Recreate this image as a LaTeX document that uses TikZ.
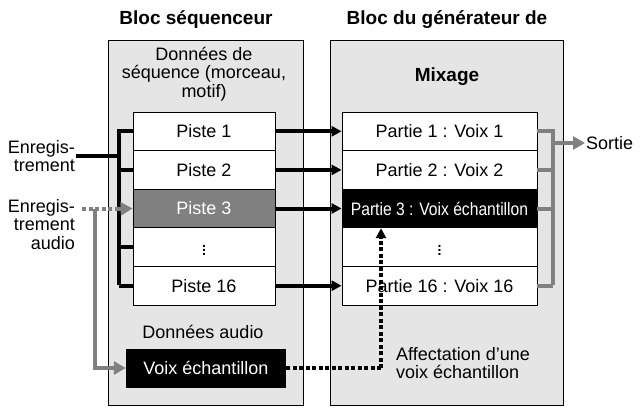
\documentclass[tikz,border=0pt]{standalone}
\usepackage{fontspec}
\setmainfont{Liberation Sans}
\usetikzlibrary{arrows.meta}
\definecolor{panel}{gray}{0.9}
\definecolor{midgray}{gray}{0.5}
\begin{document}
\begin{tikzpicture}[x=1pt, y=-1pt,
    >={Triangle[length=10pt, width=10pt]},
    font=\fontsize{18}{18.5}\selectfont,
    ]
% -------------------------------------------------
% Box and line styles
\tikzset{
  panel/.style={draw, fill=panel, line width=0.8pt},
  row/.style={draw, fill=white, line width=0.8pt, minimum height=38.6pt, inner sep=0pt},
  track/.style={row, minimum width=142pt},
  part/.style={row, minimum width=195pt},
  plain/.style={},
  grayrow/.style={fill=midgray, text=white},
  blackrow/.style={fill=black, text=white},
  head/.style={font=\fontsize{19}{21}\selectfont\bfseries},
  blk/.style={line width=4pt, black},
  gry/.style={line width=4pt, midgray},
  dots/.style={line width=3.5pt, dash pattern=on 4pt off 2.5pt},
  gtip/.style={-{Triangle[length=12pt,width=13pt]}},
}
\newcommand\vdotsmark{\raisebox{-2pt}{\fontsize{14}{14}\selectfont\bfseries\vdots}}
\useasboundingbox (0,0) rectangle (640,409);
% -------------------------------------------------
% Panels and headings
\draw [panel] (108,40) rectangle (303,405);
\draw [panel] (330,40) rectangle (563,405);
\node [head] (hseq) at (196,20) {Bloc séquenceur};
\node [head] (hgen) at (447,20) {Bloc du générateur de};
\node [head] (hmix) at (447,77) {Mixage};
\node [align=center] (seqdata) at (204,74) {Données de\\séquence (morceau,\\motif)};
% -------------------------------------------------
% Track rows and part rows
\foreach \i/\t/\s in {1/Piste 1/plain, 2/Piste 2/plain, 3/Piste 3/grayrow, 4/\vdotsmark/plain, 5/Piste 16/plain}
  \node [track, \s] (t\i) at (204,{112+38.6*(\i-0.5)}) {\t};
\foreach \i/\t/\s in {1/Partie 1 : Voix 1/plain, 2/Partie 2 : Voix 2/plain,
    3/\scalebox{0.87}[1]{Partie 3 : Voix échantillon}/blackrow, 4/\vdotsmark/plain, 5/Partie 16 : Voix 16/plain}
  \node [part, \s] (p\i) at (439.5,{112+38.6*(\i-0.5)}) {\t};
% -------------------------------------------------
% Recording inputs
\node [align=right, anchor=east, inner sep=1pt] (rec) at (76,156) {Enregis-\\trement};
\node [align=right, anchor=north east, inner sep=1pt] (recaud) at (76,198) {Enregis-\\trement\\audio};
\coordinate (bus) at (119,156);
\draw [blk] (rec.east) -- (bus);
\draw [blk] (119,129) -- (119,285);
\foreach \i in {1,2,4,5}
  \draw [blk] (119,0 |- t\i) -- (t\i.west);
\coordinate (audsrc) at (82,209);
\coordinate (audin) at (116,209);
\draw [gry, dots] (audsrc) -- (audin);
\draw [midgray, line width=4pt, gtip] (audin) -- (t3.west);
\node [anchor=south] (auddata) at (203,342) {Données audio};
\node [fill=black, text=white, minimum width=160pt, minimum height=39pt, inner sep=0pt] (sample) at (206,368) {Voix échantillon};
\draw [gry, gtip] (95,209) |- (sample.west);
% -------------------------------------------------
% Tracks to parts
\foreach \i in {1,2,3,5}
  \draw [blk, ->] (t\i.east) -- (p\i.west);
% Sample assignment
\coordinate (bend) at (381,0 |- sample);
\draw [dots] (sample.east) -- (bend);
\draw [dots, ->] (bend) -- (381,0 |- p3.south);
\node [align=left, anchor=west, inner sep=1pt] (assign) at (395,363) {Affectation d'une\\voix échantillon};
% -------------------------------------------------
% Output bus
\foreach \i in {1,2,3,5}
  \draw [gry] (p\i.east) -- (553,0 |- p\i);
\draw [gry] (553,129) -- (553,285);
\draw [gry, gtip] (553,143) -- (585,143);
\node [anchor=west, inner sep=1pt] (out) at (585,143) {Sortie};
\end{tikzpicture}
\end{document}
